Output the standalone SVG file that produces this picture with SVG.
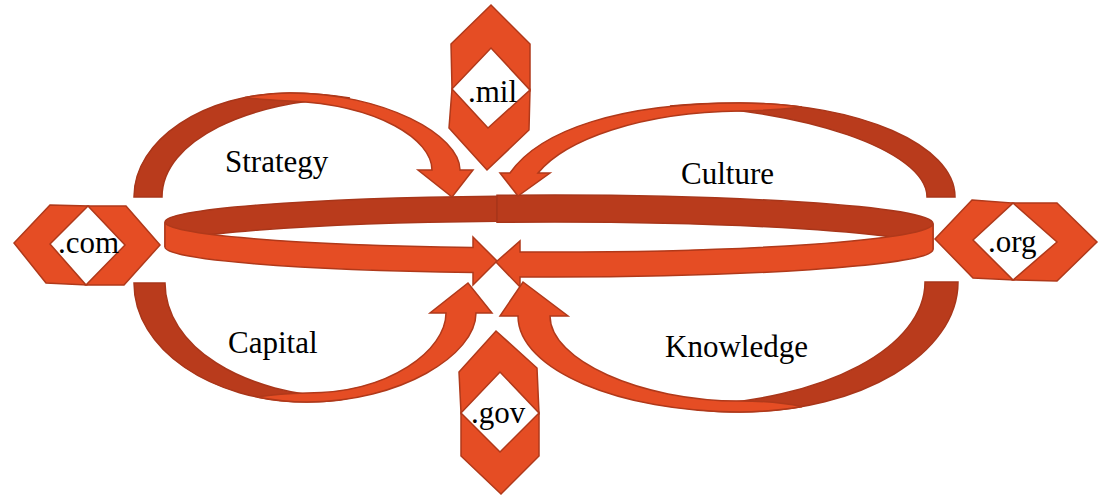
<svg xmlns="http://www.w3.org/2000/svg" width="1101" height="497" viewBox="0 0 1101 497">
<style>
.lt{fill:#E54D24;stroke:#B0391A;stroke-width:1.5;stroke-linejoin:miter}
.dk{fill:#B93B1C;stroke:#A8361A;stroke-width:1.5}
.t{font-family:"Liberation Serif","Times New Roman",serif;font-size:31px;fill:#000}
</style>
<rect width="1101" height="497" fill="#fff"/>
<g id="connectors">
  <!-- ring back band -->
  <path class="dk" d="M165,222 A384,26 0 0 1 497,196.2 L497,221.2 A384,26 0 0 0 165,247 Z"/>
  <path class="dk" d="M497,195.3 A384,28.5 0 0 1 933,223.5 L933,249.5 A384,27.5 0 0 0 497,222.25 Z"/>
  <!-- ring front arrows -->
  <path class="lt" d="M165,222 A384,26 0 0 0 473,247.5 L473,237 L497,261 L473,285 L473,272.5 A384,26 0 0 1 165,247 Z"/>
  <path class="lt" d="M933,223.5 A384,28.5 0 0 1 520,251.9 L520,241 L496,262 L520,287 L520,276.9 A384,27.5 0 0 0 933,249.5 Z"/>
  <!-- Strategy arrow -->
  <path class="dk" d="M134,197 C134,140 204,93 290,93 C310,93 330,95 350,98 C250,100 162,140 162,197 Z"/>
  <path class="lt" d="M245,97.4 C262,94.5 275,93 290,93 C384,93 460,135 460,170 L473,170 L452,197 L418,170 L432,170 C432,140 380,105 290,101 C270,100 255,99 245,97.4 Z"/>
  <!-- Culture arrow -->
  <path class="dk" d="M955,197 C955,145 859,103 740,103 C715,103 690,104 670,106 C800,108 927,150 927,197 Z"/>
  <path class="lt" d="M802,107 C780,104.5 760,103 740,103 C620,103 540,130 510,173 L500,173 L518,196 L550,173 L538,173 C565,140 640,112 740,111 C765,110.5 785,109 802,107 Z"/>
  <!-- Capital arrow -->
  <path class="dk" d="M134,283 C134,349 211,402 307,402 C322,402 336,401 350,398 C240,396 165,345 165,283 Z"/>
  <path class="lt" d="M257,397 C275,400.5 290,402 307,402 C400,402 476,355 476,313 L492,313 L468,283 L430,313 L446,313 C446,350 390,393 307,393 C285,393.5 270,395 257,397 Z"/>
  <!-- Knowledge arrow -->
  <path class="dk" d="M958,282 C958,354 860,412 740,412 C715,412 695,410 680,406 C830,402 925,345 925,282 Z"/>
  <path class="lt" d="M802,406.7 C780,410 760,412 740,412 C620,412 518,370 518,316 L500,316 L523,282 L568,316 L550,316 C550,360 640,401 740,401 C765,401 785,403 802,406.7 Z"/>
</g>
<g id="label-strategy"><text class="t" x="225" y="172">Strategy</text></g>
<g id="label-culture"><text class="t" x="681" y="184">Culture</text></g>
<g id="label-capital"><text class="t" x="228" y="353">Capital</text></g>
<g id="label-knowledge"><text class="t" x="665" y="357">Knowledge</text></g>
<g id="node-mil">
  <polygon class="lt" points="451,44 491,5 530,44 530,90 491,48 452,89"/>
  <polygon class="lt" points="452,89 488,128 530,90 529,130 487,170 449,128"/>
  <text class="t" x="468" y="102">.mil</text>
</g>
<g id="node-com">
  <polygon class="lt" points="50,205 88,206 50,244 86,285 46,283 14,243"/>
  <polygon class="lt" points="88,206 126,206 160,245 124,285 86,285 125,245"/>
  <text class="t" x="58" y="253">.com</text>
</g>
<g id="node-org">
  <polygon class="lt" points="972,200 1013,203 973,240 1013,280 973,278 935,239"/>
  <polygon class="lt" points="1013,203 1057,203 1097,242 1057,281 1013,280 1057,242"/>
  <text class="t" x="988" y="252">.org</text>
</g>
<g id="node-gov">
  <polygon class="lt" points="459,372 496,331 537,368 539,413 500,372 461,413"/>
  <polygon class="lt" points="461,413 500,452 539,413 539,456 501,494 461,456"/>
  <text class="t" x="471" y="423">.gov</text>
</g>
</svg>
